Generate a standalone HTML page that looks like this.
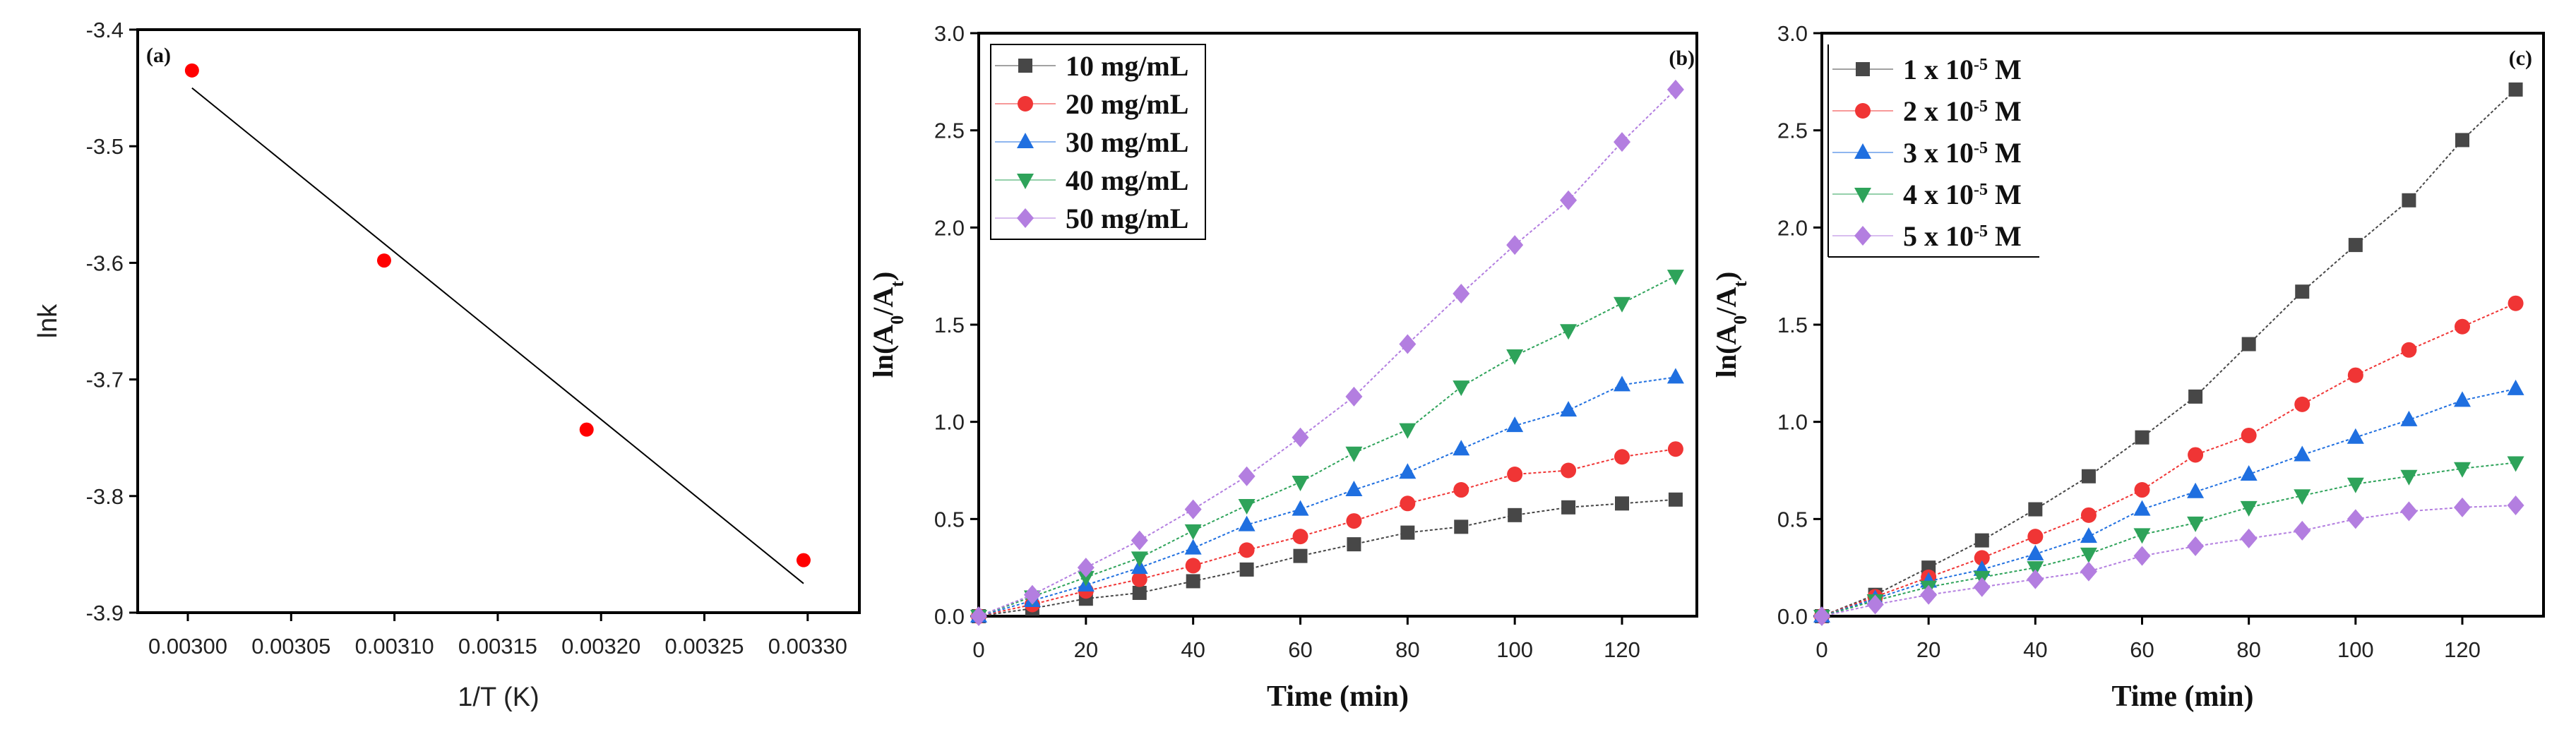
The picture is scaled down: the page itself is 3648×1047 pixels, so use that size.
<!DOCTYPE html>
<html><head><meta charset="utf-8"><style>
html,body{margin:0;padding:0;background:#fff;}
svg{display:block;}
.tk{font-family:"Liberation Sans",sans-serif;font-size:31px;fill:#222;}
.ser{font-family:"Liberation Serif",serif;font-weight:bold;fill:#111;}
</style></head><body>
<svg id="fig" width="3648" height="1047" viewBox="0 0 3648 1047" xmlns="http://www.w3.org/2000/svg"></svg>
<script>
// Panel a data
const aX = [0.003002, 0.003095, 0.003193, 0.003298];
const aY = [-3.435, -3.598, -3.743, -3.855];
const aFitX = [0.003002, 0.003298];
const aFitY = [-3.45, -3.875];
const aXTicks = [0.00300, 0.00305, 0.00310, 0.00315, 0.00320, 0.00325, 0.00330];
const aXTickLabels = ["0.00300","0.00305","0.00310","0.00315","0.00320","0.00325","0.00330"];
const aYTicks = [-3.4, -3.5, -3.6, -3.7, -3.8, -3.9];
const aYTickLabels = ["-3.4","-3.5","-3.6","-3.7","-3.8","-3.9"];
// Panels b, c data
const times = [0,10,20,30,40,50,60,70,80,90,100,110,120,130];
const b10 = [0,0.04,0.09,0.12,0.18,0.24,0.31,0.37,0.43,0.46,0.52,0.56,0.58,0.60];
const b20 = [0,0.06,0.13,0.19,0.26,0.34,0.41,0.49,0.58,0.65,0.73,0.75,0.82,0.86];
const b30 = [0,0.08,0.16,0.25,0.35,0.47,0.55,0.65,0.74,0.86,0.98,1.06,1.19,1.23];
const b40 = [0,0.10,0.20,0.30,0.44,0.57,0.69,0.84,0.96,1.18,1.34,1.47,1.61,1.75];
const b50 = [0,0.11,0.25,0.39,0.55,0.72,0.92,1.13,1.40,1.66,1.91,2.14,2.44,2.71];
const bLabels = ["10 mg/mL","20 mg/mL","30 mg/mL","40 mg/mL","50 mg/mL"];
const c1 = [0,0.11,0.25,0.39,0.55,0.72,0.92,1.13,1.40,1.67,1.91,2.14,2.45,2.71];
const c2 = [0,0.10,0.20,0.30,0.41,0.52,0.65,0.83,0.93,1.09,1.24,1.37,1.49,1.61];
const c3 = [0,0.09,0.18,0.24,0.32,0.41,0.55,0.64,0.73,0.83,0.92,1.01,1.11,1.17];
const c4 = [0,0.08,0.15,0.20,0.25,0.32,0.42,0.48,0.56,0.62,0.68,0.72,0.76,0.79];
const c5 = [0,0.06,0.11,0.15,0.19,0.23,0.31,0.36,0.40,0.44,0.50,0.54,0.56,0.57];
const cLabels = ["1","2","3","4","5"];
const tTicks = [0,20,40,60,80,100,120];
const vTicks = [0,0.5,1.0,1.5,2.0,2.5,3.0];
const vTickLabels = ["0.0","0.5","1.0","1.5","2.0","2.5","3.0"];

const NS="http://www.w3.org/2000/svg";
const svg=document.getElementById('fig');
function mk(tag,attrs,parent,text){const e=document.createElementNS(NS,tag);for(const k in attrs)e.setAttribute(k,attrs[k]);if(text!==undefined)e.textContent=text;(parent||svg).appendChild(e);return e;}

const colors=["#474747","#f03535","#1f6fe0","#2ea35a","#b37ee0"];
const shapes=["square","circle","up","down","diamond"];
function marker(g,shape,x,y,col,s){
  let e;
  if(shape==="square")e=mk('rect',{x:x-s,y:y-s,width:2*s,height:2*s,fill:col},g);
  else if(shape==="circle")e=mk('circle',{cx:x,cy:y,r:s*1.1,fill:col},g);
  else if(shape==="up")e=mk('polygon',{points:`${x},${y-s*1.3} ${x-s*1.2},${y+s*0.9} ${x+s*1.2},${y+s*0.9}`,fill:col},g);
  else if(shape==="down")e=mk('polygon',{points:`${x},${y+s*1.3} ${x-s*1.2},${y-s*0.9} ${x+s*1.2},${y-s*0.9}`,fill:col},g);
  else e=mk('polygon',{points:`${x},${y-s*1.4} ${x+s*1.2},${y} ${x},${y+s*1.4} ${x-s*1.2},${y}`,fill:col},g);
  return e;
}

// ---------- Panel a ----------
(function(){
  const L=195,R=1217,T=42,B=868;
  const g=mk('g',{});
  
  
  const xs=v=>266+(v-0.003)/0.00005*146.3;
  const ys=v=>T+(-3.4-v)/0.5*(B-T);
  const fr=mk('rect',{x:L,y:T,width:R-L,height:B-T,fill:'none',stroke:'#000','stroke-width':4},g);
  
  
  aXTicks.forEach((v,i)=>{const x=xs(v);mk('line',{x1:x,y1:B,x2:x,y2:B+12,stroke:'#000','stroke-width':3},g);
    const t=mk('text',{x:x,y:B+58,'text-anchor':'middle',class:'tk'},g,aXTickLabels[i]);
    
    });
  aYTicks.forEach((v,i)=>{const y=ys(v);mk('line',{x1:L-12,y1:y,x2:L,y2:y,stroke:'#000','stroke-width':3},g);
    const t=mk('text',{x:L-20,y:y+11,'text-anchor':'end',class:'tk'},g,aYTickLabels[i]);
    
    });
  const fit=mk('line',{x1:xs(aFitX[0]),y1:ys(aFitY[0]),x2:xs(aFitX[1]),y2:ys(aFitY[1]),stroke:'#000','stroke-width':2},g);
  
  
  aX.forEach((v,i)=>{const c=mk('circle',{cx:xs(v),cy:ys(aY[i]),r:10,fill:'#f00'},g);
    
    });
  const xl=mk('text',{x:(L+R)/2,y:1000,'text-anchor':'middle',class:'tk',style:'font-size:38px'},g,'1/T (K)');
  
  
  const yl=mk('text',{x:0,y:0,'text-anchor':'middle',class:'tk',style:'font-size:38px',transform:`translate(80,${(T+B)/2}) rotate(-90)`},g,'lnk');
  
  
  const pl=mk('text',{x:207,y:88,class:'ser',style:'font-size:30px'},g,'(a)');
  
  
})();

// ---------- Panels b,c ----------
function timePanel(name,L,R,x0,x120,series,labelFn,panelLabel,plx,legend){
  const T=47,B=873;
  const g=mk('g',{});
  
  
  const xs=v=>x0+v/120*(x120-x0);
  const ys=v=>B-v/3*(B-T);
  const fr=mk('rect',{x:L,y:T,width:R-L,height:B-T,fill:'none',stroke:'#000','stroke-width':4},g);
  
  
  tTicks.forEach(v=>{const x=xs(v);mk('line',{x1:x,y1:B,x2:x,y2:B+12,stroke:'#000','stroke-width':3},g);
    const t=mk('text',{x:x,y:B+58,'text-anchor':'middle',class:'tk'},g,String(v));
    
    });
  vTicks.forEach((v,i)=>{const y=ys(v);mk('line',{x1:L-12,y1:y,x2:L,y2:y,stroke:'#000','stroke-width':3},g);
    const t=mk('text',{x:L-20,y:y+11,'text-anchor':'end',class:'tk'},g,vTickLabels[i]);
    
    });
  series.forEach((s,k)=>{
    const pts=times.map((t,i)=>xs(t)+','+ys(s[i])).join(' ');
    const pl=mk('polyline',{points:pts,fill:'none',stroke:colors[k],'stroke-width':2,'stroke-dasharray':'4,3'},g);
    
    
    times.forEach((t,i)=>{const m=marker(g,shapes[k],xs(t),ys(s[i]),colors[k],10);
      
      });
  });
  const xl=mk('text',{x:(L+R)/2,y:1000,'text-anchor':'middle',class:'ser',style:'font-size:42px'},g,'Time (min)');
  
  
  const yl=mk('text',{x:0,y:0,'text-anchor':'middle',class:'ser',style:'font-size:40px',transform:`translate(${L-122},${(T+B)/2}) rotate(-90)`},g);
  
  
  yl.innerHTML='ln(A<tspan baseline-shift="sub" font-size="26">0</tspan>/A<tspan baseline-shift="sub" font-size="26">t</tspan>)';
  const p=mk('text',{x:plx,y:92,'text-anchor':'end',class:'ser',style:'font-size:30px'},g,panelLabel);
  
  
  // legend
  const lg=mk('g',{},g);
  
  
  if(legend.box) mk('rect',{x:legend.x,y:legend.y,width:legend.w,height:legend.h,fill:'#fff',stroke:'#000','stroke-width':2},lg);
  else { mk('line',{x1:legend.x,y1:legend.y,x2:legend.x,y2:legend.y+legend.h,stroke:'#000','stroke-width':2},lg);
         mk('line',{x1:legend.x,y1:legend.y+legend.h,x2:legend.x+legend.w,y2:legend.y+legend.h,stroke:'#000','stroke-width':2},lg);}
  series.forEach((s,k)=>{
    const y=legend.y+legend.first+k*legend.dy;
    const e=mk('g',{},lg);
    
    
    mk('line',{x1:legend.x+6,y1:y,x2:legend.x+92,y2:y,stroke:colors[k],'stroke-width':2,opacity:0.5},e);
    marker(e,shapes[k],legend.x+49,y,colors[k],10);
    const t=mk('text',{x:legend.x+106,y:y+14,class:'ser',style:'font-size:40px'},e);
    t.innerHTML=labelFn(k);
  });
}
timePanel('panel-b',1386,2403,1386,2297,[b10,b20,b30,b40,b50],k=>bLabels[k],'(b)',2400,
  {box:true,x:1403,y:63,w:304,h:276,dy:54,first:30});
timePanel('panel-c',2580,3602,2580,3487,[c1,c2,c3,c4,c5],k=>cLabels[k]+' x 10<tspan baseline-shift="super" font-size="24">-5</tspan> M','(c)',3586,
  {box:false,x:2589,y:63,w:299,h:301,dy:59,first:35});
</script>
</body></html>
